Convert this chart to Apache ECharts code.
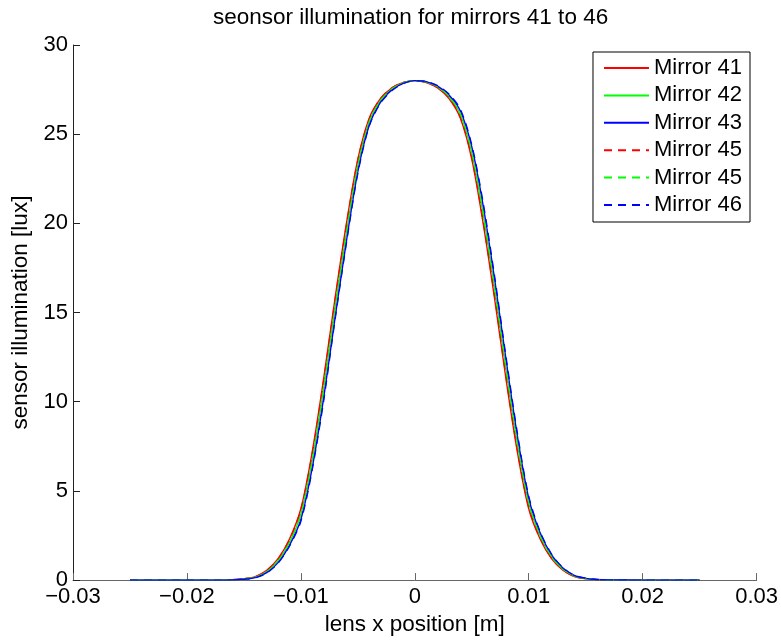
<!DOCTYPE html>
<html><head><meta charset="utf-8">
<script src="https://cdn.jsdelivr.net/npm/echarts@6/dist/echarts.min.js"></script>
<style>html,body{margin:0;padding:0;background:#fff}#c{width:781px;height:641px}</style>
</head><body><div id="c"></div>
<script>
var xs = [-0.025,-0.02,-0.017,-0.016,-0.015,-0.014,-0.013,-0.012,-0.011,-0.01,-0.009,-0.008,-0.007,-0.006,-0.005,-0.004,-0.003,-0.002,-0.001,0,
          0.001,0.002,0.003,0.004,0.005,0.006,0.007,0.008,0.009,0.01,0.011,0.012,0.013,0.014,0.015,0.016,0.017,0.02,0.025];
var mirror41 = [0,0,0,0.02,0.08,0.2,0.55,1.2,2.3,4.0,7.2,11.3,15.8,20.0,23.6,25.9,27.0,27.6,27.9,28.0,
                27.9,27.6,27.0,25.9,23.6,20.0,15.8,11.3,7.2,4.0,2.3,1.2,0.55,0.2,0.08,0.02,0,0,0];
var mirror42 = [0,0,0,0.015,0.07,0.17,0.48,1.09,2.12,3.7,6.75,10.75,15.25,19.5,23.25,25.7,26.9,27.55,27.88,28.0,
                27.92,27.65,27.1,26.1,23.95,20.5,16.35,11.85,7.65,4.3,2.47,1.31,0.61,0.23,0.09,0.025,0.005,0,0];
var mirror43 = [0,0,0,0.01,0.06,0.14,0.42,0.98,1.95,3.4,6.3,10.2,14.7,19.0,22.9,25.5,26.8,27.5,27.85,28.0,
                27.95,27.7,27.2,26.3,24.3,21.0,16.9,12.4,8.1,4.6,2.65,1.42,0.68,0.26,0.1,0.03,0.01,0,0];
var mirror45a = [0,0,0,0.02,0.08,0.19,0.53,1.18,2.25,3.95,7.1,11.2,15.7,19.9,23.55,25.85,27.0,27.6,27.9,28.0,
                 27.9,27.62,27.05,25.95,23.7,20.1,15.95,11.45,7.3,4.1,2.35,1.24,0.57,0.21,0.08,0.02,0,0,0];
var mirror45b = [0,0,0,0.015,0.07,0.16,0.47,1.07,2.1,3.65,6.7,10.7,15.2,19.45,23.2,25.7,26.9,27.55,27.88,28.0,
                 27.92,27.66,27.12,26.15,24.0,20.6,16.45,11.95,7.75,4.35,2.5,1.33,0.62,0.24,0.09,0.025,0.005,0,0];
var mirror46 = [0,0,0,0.01,0.05,0.13,0.4,0.95,1.9,3.3,6.2,10.05,14.6,18.9,22.8,25.45,26.75,27.45,27.85,28.0,
                27.95,27.72,27.25,26.4,24.4,21.15,17.05,12.55,8.25,4.7,2.72,1.46,0.7,0.27,0.11,0.035,0.01,0,0];
var yTicks = [0,5,10,15,20,25,30];

function pairs(v){ return xs.map(function(x,i){ return [x, v[i]]; }); }
var seriesDefs = [
  {name:'Mirror 41', data:mirror41, color:'#ff0000', type:'solid'},
  {name:'Mirror 42', data:mirror42, color:'#00ff00', type:'solid'},
  {name:'Mirror 43', data:mirror43, color:'#0000ff', type:'solid'},
  {name:'Mirror 45', data:mirror45a, color:'#ff0000', type:'dashed'},
  {name:'Mirror 45 ', data:mirror45b, color:'#00ff00', type:'dashed'},
  {name:'Mirror 46', data:mirror46, color:'#0000ff', type:'dashed'}
];
var font = 'Liberation Sans, Arial, Helvetica, sans-serif';
function fmt(v){ if (Math.abs(v) < 1e-9) return '0'; var s = (Math.round(v*100)/100).toString(); return s.replace('-', '\u2212'); }

var chart = echarts.init(document.getElementById('c'), null, {renderer:'canvas'});
chart.setOption({
  animation:false,
  backgroundColor:'#fff',
  textStyle:{fontFamily:font},
  title:{text:'seonsor illumination for mirrors 41 to 46', left:213, top:6, padding:0,
    textStyle:{fontSize:22.5, fontWeight:'normal', color:'#000', fontFamily:font}},
  grid:{left:73, right:24, top:45, bottom:58},
  legend:{
    orient:'vertical', right:31, top:52, backgroundColor:'#fff',
    borderColor:'#000', borderWidth:1, borderRadius:0,
    padding:[5,8,6,10], itemGap:5.4, itemWidth:45, itemHeight:18,
    textStyle:{fontSize:22, lineHeight:22, color:'#000', fontFamily:font},
    itemStyle:{opacity:0},
    formatter:function(n){ return n.trim(); },
    data:seriesDefs.map(function(s){ return {name:s.name}; })
  },
  xAxis:{type:'value', min:-0.03, max:0.03, interval:0.01,
    name:'lens x position [m]', nameLocation:'middle', nameGap:31,
    nameTextStyle:{fontSize:22.5, color:'#000', fontFamily:font},
    axisLine:{onZero:false, lineStyle:{color:'#666', width:1}},
    axisTick:{inside:true, length:7, lineStyle:{color:'#666'}},
    axisLabel:{fontSize:22, color:'#000', margin:6, formatter:fmt, fontFamily:font},
    splitLine:{show:false}},
  yAxis:{type:'value', min:0, max:30, interval:5,
    name:'sensor illumination [lux]', nameLocation:'middle', nameGap:30,
    nameTextStyle:{fontSize:22.5, color:'#000', fontFamily:font},
    axisLine:{show:true, onZero:false, lineStyle:{color:'#222', width:1}},
    axisTick:{show:true, inside:true, length:7, lineStyle:{color:'#222'}},
    axisLabel:{fontSize:22, color:'#000', margin:5, fontFamily:font,
      formatter:function(v){ return yTicks.indexOf(v) >= 0 ? String(v) : ''; }},
    splitLine:{show:false}},
  series:seriesDefs.map(function(s){
    return {name:s.name, type:'line', data:pairs(s.data), symbol:'none', smooth:0.3,
      color:s.color,
      lineStyle:{color:s.color, width:1.4, type:s.type==='dashed'?[8,6]:'solid'},
      itemStyle:{color:s.color}};
  })
});
</script></body></html>
